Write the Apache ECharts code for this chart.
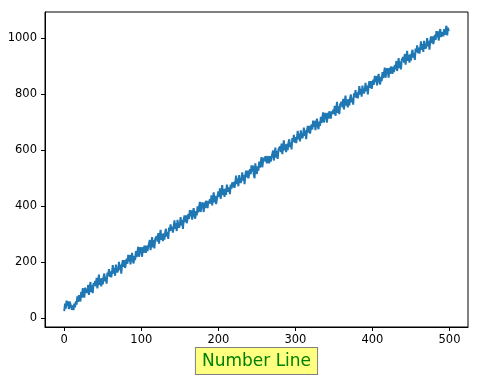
<!DOCTYPE html>
<html>
<head>
<meta charset="utf-8">
<script src="https://cdn.jsdelivr.net/npm/echarts@6/dist/echarts.min.js"></script>
<style>html,body{margin:0;padding:0;background:#fff}#c{width:486px;height:389px}</style>
</head>
<body>
<div id="c"></div>
<script>
var yValues = [
25,52,34,62,43,60,32,59,50,38,
30,45,28,52,38,60,48,78,58,82,
80,59,94,73,107,87,73,109,89,105,
89,119,83,107,129,93,117,89,125,117,
133,113,144,106,131,155,119,141,113,143,
120,147,159,131,147,123,163,151,175,147,
167,145,165,189,159,179,151,191,171,163,
173,201,171,191,159,191,207,183,207,179,
185,212,194,226,203,225,192,219,233,205,
195,222,207,239,218,237,255,219,239,253,
240,219,254,233,259,247,233,259,239,255,
249,279,243,267,289,253,279,249,283,277,
293,273,304,266,291,315,279,301,275,303,
280,307,319,291,307,283,323,311,335,313,
327,305,325,349,319,339,311,351,331,323,
333,361,331,351,319,351,367,343,367,339,
345,372,354,386,363,385,352,379,393,365,
355,382,367,399,378,397,415,379,399,413,
400,379,414,393,419,407,393,419,409,425,
409,439,403,427,449,413,437,407,405,437,
453,433,464,426,451,475,439,461,433,463,
440,477,479,451,467,443,477,463,485,467,
487,465,485,509,479,499,471,511,491,483,
493,521,491,511,479,511,527,503,527,499,
505,532,514,546,523,545,512,500,553,525,
515,542,527,559,538,557,575,539,559,573,
560,579,574,553,579,567,553,579,559,575,
569,599,563,587,609,573,597,569,603,597,
613,593,624,586,611,635,599,621,593,623,
600,627,639,611,627,603,643,631,655,627,
647,625,645,669,639,659,631,671,651,643,
653,681,651,671,639,671,687,663,687,659,
665,692,674,706,683,705,672,699,713,685,
675,702,687,719,698,717,735,699,719,733,
720,699,734,713,739,727,713,739,729,745,
729,759,723,747,773,733,757,729,763,757,
773,753,784,746,771,795,759,781,753,783,
760,787,799,771,787,763,803,791,815,787,
807,785,805,829,799,819,791,831,811,803,
813,841,811,831,799,831,847,823,847,819,
825,852,834,866,843,865,832,859,873,845,
835,862,847,879,858,877,895,859,879,893,
880,859,894,873,899,887,873,899,879,905,
889,919,883,907,929,893,917,889,923,917,
933,913,944,906,931,955,919,941,913,943,
920,947,959,931,947,923,963,951,975,947,
967,945,965,989,959,979,951,991,971,963,
973,1001,971,991,959,991,1007,983,1007,979,
985,1012,994,1026,1003,1025,992,1019,1033,1005,
1000,1022,1007,1033,1012,1030,1045,1010,1038,1025
];
var xTicks = [0,100,200,300,400,500];
var yTicks = [0,200,400,600,800,1000];
var xLabel = 'Number Line';

var seriesData = yValues.map(function(v, i){ return [i, v]; });
var chart = echarts.init(document.getElementById('c'), null, {renderer: 'canvas'});
var font = 'DejaVu Sans';
function plain(v){ return String(v); }
chart.setOption({
  animation: false,
  backgroundColor: '#ffffff',
  grid: {left: 45, right: 18, top: 12, bottom: 62, show: true, borderColor: '#000', borderWidth: 1, backgroundColor: 'transparent'},
  xAxis: {
    type: 'value', min: -25, max: 524,
    splitLine: {show: false},
    axisLine: {show: true, onZero: false, lineStyle: {color: '#000', width: 1}},
    axisTick: {show: true, length: 4, inside: false, customValues: xTicks, lineStyle: {color: '#000'}},
    axisLabel: {customValues: xTicks, formatter: plain, color: '#000', fontFamily: font, fontSize: 11.5, margin: 7},
    name: xLabel, nameLocation: 'middle', nameGap: 21, nameMoveOverlap: false,
    nameTextStyle: {color: '#008000', fontFamily: font, fontSize: 17, backgroundColor: '#ffff80', borderColor: '#808080', borderWidth: 1, padding: [5, 6, 4, 6], verticalAlign: 'top'}
  },
  yAxis: {
    type: 'value', min: -32, max: 1094,
    splitLine: {show: false},
    axisLine: {show: true, onZero: false, lineStyle: {color: '#000', width: 1}},
    axisTick: {show: true, length: 4, inside: false, customValues: yTicks, lineStyle: {color: '#000'}},
    axisLabel: {customValues: yTicks, formatter: plain, color: '#000', fontFamily: font, fontSize: 11.5, margin: 8}
  },
  series: [{
    type: 'line', data: seriesData, showSymbol: false, symbol: 'none',
    lineStyle: {color: '#1f77b4', width: 2}, clip: true
  }]
});
</script>
</body>
</html>
